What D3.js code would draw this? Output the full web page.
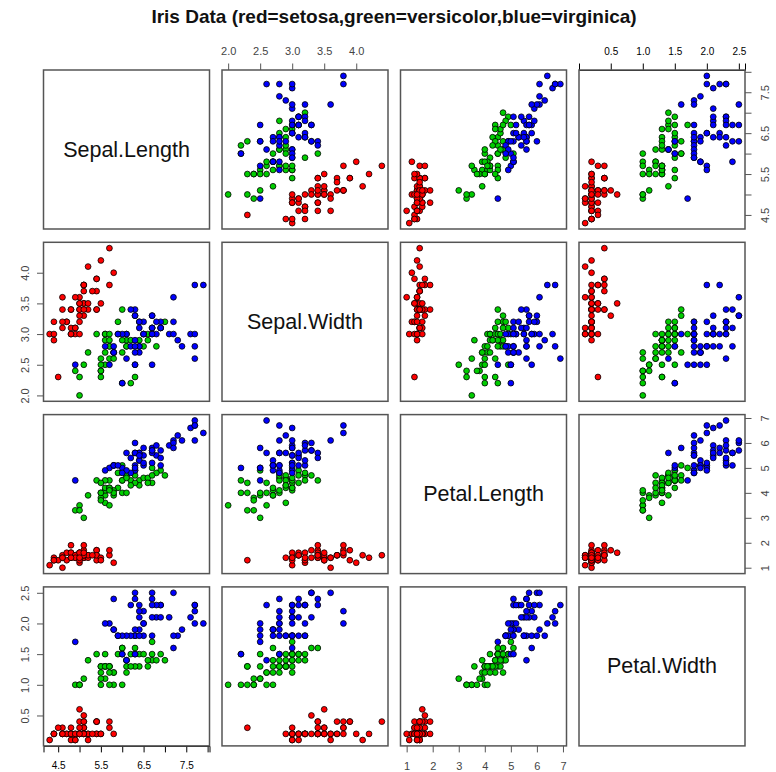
<!DOCTYPE html>
<html>
<head>
<meta charset="utf-8">
<script src="https://cdn.jsdelivr.net/npm/d3@7"></script>
<style>
  body { margin: 0; background: #fff; }
  text { font-family: "Liberation Sans", Arial, Helvetica, sans-serif; }
</style>
</head>
<body>
<div id="chart"></div>
<script>
// iris measurements, in data order (setosa, versicolor, virginica)
const sepalLength = [
  5.1,4.9,4.7,4.6,5.0,5.4,4.6,5.0,4.4,4.9,5.4,4.8,4.8,4.3,5.8,5.7,5.4,5.1,5.7,5.1,5.4,5.1,4.6,5.1,4.8,
  5.0,5.0,5.2,5.2,4.7,4.8,5.4,5.2,5.5,4.9,5.0,5.5,4.9,4.4,5.1,5.0,4.5,4.4,5.0,5.1,4.8,5.1,4.6,5.3,5.0,
  7.0,6.4,6.9,5.5,6.5,5.7,6.3,4.9,6.6,5.2,5.0,5.9,6.0,6.1,5.6,6.7,5.6,5.8,6.2,5.6,5.9,6.1,6.3,6.1,6.4,
  6.6,6.8,6.7,6.0,5.7,5.5,5.5,5.8,6.0,5.4,6.0,6.7,6.3,5.6,5.5,5.5,6.1,5.8,5.0,5.6,5.7,5.7,6.2,5.1,5.7,
  6.3,5.8,7.1,6.3,6.5,7.6,4.9,7.3,6.7,7.2,6.5,6.4,6.8,5.7,5.8,6.4,6.5,7.7,7.7,6.0,6.9,5.6,7.7,6.3,6.7,
  7.2,6.2,6.1,6.4,7.2,7.4,7.9,6.4,6.3,6.1,7.7,6.3,6.4,6.0,6.9,6.7,6.9,5.8,6.8,6.7,6.7,6.3,6.5,6.2,5.9
];
const sepalWidth = [
  3.5,3.0,3.2,3.1,3.6,3.9,3.4,3.4,2.9,3.1,3.7,3.4,3.0,3.0,4.0,4.4,3.9,3.5,3.8,3.8,3.4,3.7,3.6,3.3,3.4,
  3.0,3.4,3.5,3.4,3.2,3.1,3.4,4.1,4.2,3.1,3.2,3.5,3.6,3.0,3.4,3.5,2.3,3.2,3.5,3.8,3.0,3.8,3.2,3.7,3.3,
  3.2,3.2,3.1,2.3,2.8,2.8,3.3,2.4,2.9,2.7,2.0,3.0,2.2,2.9,2.9,3.1,3.0,2.7,2.2,2.5,3.2,2.8,2.5,2.8,2.9,
  3.0,2.8,3.0,2.9,2.6,2.4,2.4,2.7,2.7,3.0,3.4,3.1,2.3,3.0,2.5,2.6,3.0,2.6,2.3,2.7,3.0,2.9,2.9,2.5,2.8,
  3.3,2.7,3.0,2.9,3.0,3.0,2.5,2.9,2.5,3.6,3.2,2.7,3.0,2.5,2.8,3.2,3.0,3.8,2.6,2.2,3.2,2.8,2.8,2.7,3.3,
  3.2,2.8,3.0,2.8,3.0,2.8,3.8,2.8,2.8,2.6,3.0,3.4,3.1,3.0,3.1,3.1,3.1,2.7,3.2,3.3,3.0,2.5,3.0,3.4,3.0
];
const petalLength = [
  1.4,1.4,1.3,1.5,1.4,1.7,1.4,1.5,1.4,1.5,1.5,1.6,1.4,1.1,1.2,1.5,1.3,1.4,1.7,1.5,1.7,1.5,1.0,1.7,1.9,
  1.6,1.6,1.5,1.4,1.6,1.6,1.5,1.5,1.4,1.5,1.2,1.3,1.4,1.3,1.5,1.3,1.3,1.3,1.6,1.9,1.4,1.6,1.4,1.5,1.4,
  4.7,4.5,4.9,4.0,4.6,4.5,4.7,3.3,4.6,3.9,3.5,4.2,4.0,4.7,3.6,4.4,4.5,4.1,4.5,3.9,4.8,4.0,4.9,4.7,4.3,
  4.4,4.8,5.0,4.5,3.5,3.8,3.7,3.9,5.1,4.5,4.5,4.7,4.4,4.1,4.0,4.4,4.6,4.0,3.3,4.2,4.2,4.2,4.3,3.0,4.1,
  6.0,5.1,5.9,5.6,5.8,6.6,4.5,6.3,5.8,6.1,5.1,5.3,5.5,5.0,5.1,5.3,5.5,6.7,6.9,5.0,5.7,4.9,6.7,4.9,5.7,
  6.0,4.8,4.9,5.6,5.8,6.1,6.4,5.6,5.1,5.6,6.1,5.6,5.5,4.8,5.4,5.6,5.1,5.1,5.9,5.7,5.2,5.0,5.2,5.4,5.1
];
const petalWidth = [
  0.2,0.2,0.2,0.2,0.2,0.4,0.3,0.2,0.2,0.1,0.2,0.2,0.1,0.1,0.2,0.4,0.4,0.3,0.3,0.3,0.2,0.4,0.2,0.5,0.2,
  0.2,0.4,0.2,0.2,0.2,0.2,0.4,0.1,0.2,0.2,0.2,0.2,0.1,0.2,0.2,0.3,0.3,0.2,0.6,0.4,0.3,0.2,0.2,0.2,0.2,
  1.4,1.5,1.5,1.3,1.5,1.3,1.6,1.0,1.3,1.4,1.0,1.5,1.0,1.4,1.3,1.4,1.5,1.0,1.5,1.1,1.8,1.3,1.5,1.2,1.3,
  1.4,1.4,1.7,1.5,1.0,1.1,1.0,1.2,1.6,1.5,1.6,1.5,1.3,1.3,1.3,1.2,1.4,1.2,1.0,1.3,1.2,1.3,1.3,1.1,1.3,
  2.5,1.9,2.1,1.8,2.2,2.1,1.7,1.8,1.8,2.5,2.0,1.9,2.1,2.0,2.4,2.3,1.8,2.2,2.3,1.5,2.3,2.0,2.0,1.8,2.1,
  1.8,1.8,1.8,2.1,1.6,1.9,2.0,2.2,1.5,1.4,2.3,2.4,1.8,1.8,2.1,2.4,2.3,1.9,2.3,2.5,2.3,1.9,2.0,2.3,1.8
];
const speciesNames = ['setosa', 'versicolor', 'virginica'];
const speciesColors = ['#ff0000', '#00cd00', '#0000ff'];
const species = d3.range(150).map(i => speciesNames[Math.floor(i / 50)]);

const varNames = ['Sepal.Length', 'Sepal.Width', 'Petal.Length', 'Petal.Width'];
const varValues = [sepalLength, sepalWidth, petalLength, petalWidth];
const varTicks = [
  [4.5, 5, 5.5, 6, 6.5, 7, 7.5, 8],
  [2, 2.5, 3, 3.5, 4],
  [1, 2, 3, 4, 5, 6, 7],
  [0.5, 1, 1.5, 2, 2.5]
];
const varTickLabels = [
  ['4.5', '', '5.5', '', '6.5', '', '7.5', ''],
  ['2.0', '2.5', '3.0', '3.5', '4.0'],
  ['1', '2', '3', '4', '5', '6', '7'],
  ['0.5', '1.0', '1.5', '2.0', '2.5']
];
const title = 'Iris Data (red=setosa,green=versicolor,blue=virginica)';

// page layout
const width = 776, height = 772;
const gridLeft = 43.5, gridTop = 70;
const panelW = 166, panelH = 159;
const stepX = 178.5, stepY = 172.3;
const tickLen = 6.5;

const svg = d3.select('#chart').append('svg')
  .attr('width', width)
  .attr('height', height);

svg.append('text')
  .attr('x', 394)
  .attr('y', 23)
  .attr('text-anchor', 'middle')
  .attr('font-size', '19px')
  .attr('font-weight', 'bold')
  .attr('fill', '#111')
  .text(title);

const color = d3.scaleOrdinal().domain(speciesNames).range(speciesColors);

// R style range: data extent padded by 4%
function padded(vals) {
  const [a, b] = d3.extent(vals);
  const p = (b - a) * 0.04;
  return [a - p, b + p];
}

const n = varNames.length;

for (let i = 0; i < n; i++) {      // row -> y variable
  for (let j = 0; j < n; j++) {    // column -> x variable
    const x0 = gridLeft + j * stepX;
    const y0 = gridTop + i * stepY;
    const g = svg.append('g').attr('transform', `translate(${x0},${y0})`);

    const xScale = d3.scaleLinear().domain(padded(varValues[j])).range([0, panelW]);
    const yScale = d3.scaleLinear().domain(padded(varValues[i])).range([panelH, 0]);

    if (i === j) {
      g.append('text')
        .attr('x', panelW / 2)
        .attr('y', panelH / 2)
        .attr('text-anchor', 'middle')
        .attr('dominant-baseline', 'central')
        .attr('font-size', '21.5px')
        .attr('fill', '#111')
        .text(varNames[i]);
    } else {
      g.selectAll('circle')
        .data(d3.range(150))
        .join('circle')
        .attr('cx', k => xScale(varValues[j][k]))
        .attr('cy', k => yScale(varValues[i][k]))
        .attr('r', 2.9)
        .attr('fill', k => color(species[k]))
        .attr('stroke', '#000')
        .attr('stroke-width', 0.8);
    }

    // axes on the outside, alternating like R's pairs()
    const fmtX = d => varTickLabels[j][varTicks[j].indexOf(d)];
    const fmtY = d => varTickLabels[i][varTicks[i].indexOf(d)];
    let ax = null;
    if (i === 0 && j % 2 === 1) {
      ax = g.append('g').call(d3.axisTop(xScale).tickValues(varTicks[j]).tickFormat(fmtX).tickSizeOuter(0).tickSize(tickLen).tickPadding(8.5));
    }
    if (i === n - 1 && j % 2 === 0) {
      ax = g.append('g').attr('transform', `translate(0,${panelH})`)
        .call(d3.axisBottom(xScale).tickValues(varTicks[j]).tickFormat(fmtX).tickSizeOuter(0).tickSize(tickLen).tickPadding(9.5));
    }
    if (j === 0 && i % 2 === 1) {
      ax = g.append('g').call(d3.axisLeft(yScale).tickValues(varTicks[i]).tickFormat(fmtY).tickSizeOuter(0).tickSize(tickLen));
      ax.selectAll('.tick text')
        .attr('x', null).attr('dy', null)
        .attr('text-anchor', 'middle')
        .attr('transform', 'translate(-18.5,0) rotate(-90)')
        .attr('dominant-baseline', 'central');
    }
    if (j === n - 1 && i % 2 === 0) {
      ax = g.append('g').attr('transform', `translate(${panelW},0)`)
        .call(d3.axisRight(yScale).tickValues(varTicks[i]).tickFormat(fmtY).tickSizeOuter(0).tickSize(tickLen));
      ax.selectAll('.tick text')
        .attr('x', null).attr('dy', null)
        .attr('text-anchor', 'middle')
        .attr('transform', 'translate(20,0) rotate(-90)')
        .attr('dominant-baseline', 'central');
    }
    if (ax) {
      ax.select('.domain').remove();
      ax.selectAll('.tick line').attr('stroke', '#555');
      ax.selectAll('.tick text')
        .attr('font-family', '"Liberation Sans", Arial, sans-serif')
        .attr('font-size', '11px')
        .attr('fill', '#444');
    }

    g.append('rect')
      .attr('width', panelW)
      .attr('height', panelH)
      .attr('fill', 'none')
      .attr('stroke', '#555')
      .attr('stroke-width', 1.5);
  }
}
</script>
</body>
</html>
